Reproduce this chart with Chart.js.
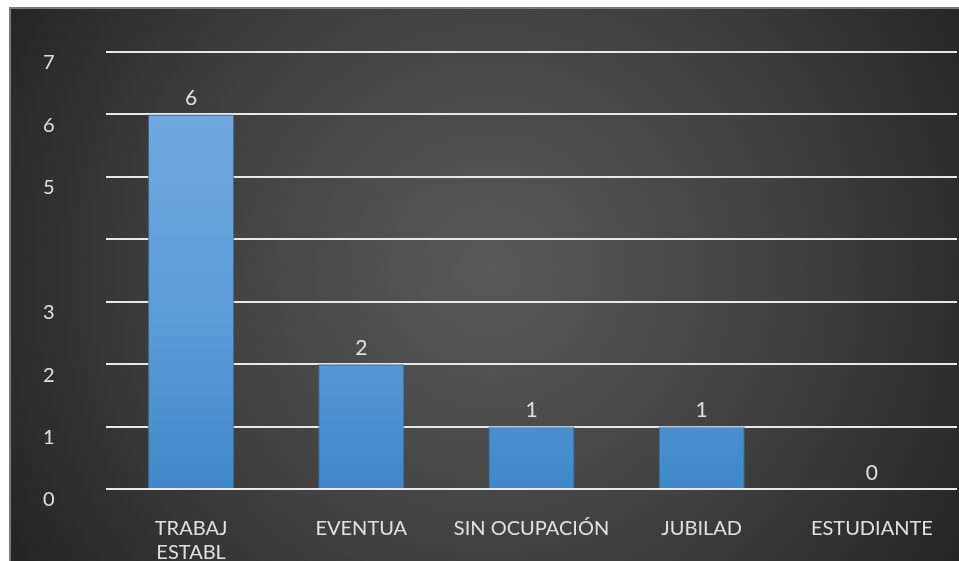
<!DOCTYPE html>
<html>
<head>
<meta charset="utf-8">
<script src="https://cdn.jsdelivr.net/npm/chart.js@4/dist/chart.umd.min.js"></script>
<style>
  html, body { margin: 0; padding: 0; background: #ffffff; }
  #wrap { width: 959px; height: 561px; position: relative; }
</style>
</head>
<body>
<div id="wrap"><canvas id="chart" width="959" height="561"></canvas></div>
<script>
// Ocupación: número de personas por categoría
const categories = [['TRABAJ', 'ESTABL'], 'EVENTUA', 'SIN OCUPACIÓN', 'JUBILAD', 'ESTUDIANTE'];
const counts = [6, 2, 1, 1, 0];
const yTicks = [0, 1, 2, 3, 5, 6, 7];

const FONT = 'Lato, "Open Sans", sans-serif';
const TEXT = '#e0e0e0';

// Dark framed backdrop with a soft radial light in the middle
const backdrop = {
  id: 'backdrop',
  beforeDraw(chart) {
    const { ctx, width, height } = chart;
    ctx.save();
    ctx.fillStyle = '#ffffff';
    ctx.fillRect(0, 0, width, height);
    ctx.fillStyle = '#7a7a7a';
    ctx.fillRect(9, 7, width - 9, height - 7);
    const g = ctx.createRadialGradient(490, 270, 0, 490, 270, 560);
    g.addColorStop(0, '#595959');
    g.addColorStop(0.55, '#3f3f3f');
    g.addColorStop(1, '#242424');
    ctx.fillStyle = g;
    ctx.fillRect(11, 9, width - 11, height - 9);
    ctx.restore();
  }
};

// Value written above each bar
const valueLabels = {
  id: 'valueLabels',
  afterDatasetsDraw(chart) {
    const { ctx } = chart;
    const meta = chart.getDatasetMeta(0);
    ctx.save();
    ctx.font = '21px ' + FONT;
    ctx.fillStyle = TEXT;
    ctx.textAlign = 'center';
    ctx.textBaseline = 'middle';
    meta.data.forEach((bar, i) => {
      ctx.fillText(String(counts[i]), bar.x, bar.y - 16);
    });
    ctx.restore();
  }
};

new Chart(document.getElementById('chart'), {
  type: 'bar',
  data: {
    labels: categories,
    datasets: [{
      data: counts,
      backgroundColor(context) {
        const area = context.chart.chartArea;
        if (!area) return '#5b9bd5';
        const g = context.chart.ctx.createLinearGradient(0, area.top, 0, area.bottom);
        g.addColorStop(0, '#76abe0');
        g.addColorStop(0.6, '#5c9cd9');
        g.addColorStop(1, '#4088c9');
        return g;
      },
      borderColor: 'rgba(56,112,160,0.9)',
      borderWidth: 1,
      categoryPercentage: 1,
      barPercentage: 0.506
    }]
  },
  options: {
    responsive: false,
    animation: false,
    layout: { padding: { left: 43, right: 2, top: 52, bottom: 0 } },
    plugins: {
      legend: { display: false },
      tooltip: { enabled: false }
    },
    scales: {
      x: {
        grid: { display: false },
        border: { display: false },
        afterFit(scale) { scale.height = 72; },
        ticks: {
          color: TEXT,
          font: { family: FONT, size: 20, lineHeight: 1.2 },
          padding: 20,
          maxRotation: 0,
          autoSkip: false
        }
      },
      y: {
        min: 0,
        max: 7,
        afterFit(scale) { scale.width = 63; },
        afterBuildTicks(scale) {
          scale.ticks = [0, 1, 2, 3, 4, 5, 6, 7].map(v => ({ value: v }));
        },
        border: { display: false },
        grid: { color: '#e8e8e8', lineWidth: 2, drawTicks: false },
        ticks: {
          color: TEXT,
          font: { family: FONT, size: 20 },
          padding: 0,
          crossAlign: 'far',
          labelOffset: 11,
          callback: v => (yTicks.includes(v) ? String(v) : '')
        }
      }
    }
  },
  plugins: [backdrop, valueLabels]
});
</script>
</body>
</html>
